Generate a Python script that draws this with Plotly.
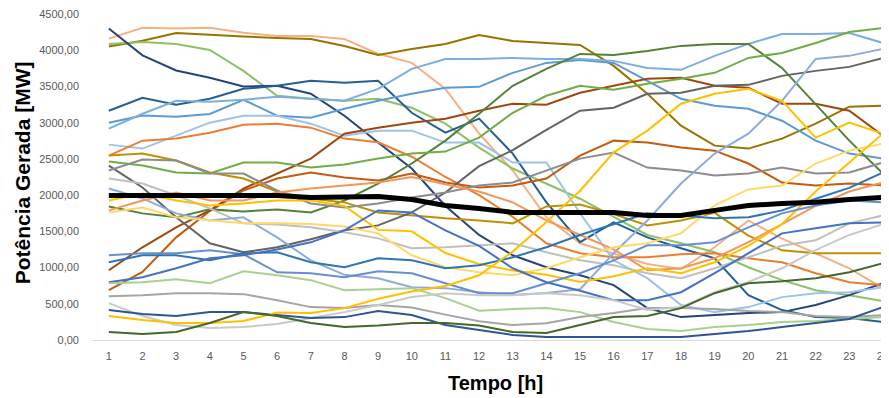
import plotly.graph_objects as go

hours = list(range(1, 25))

# ---- series values (MW) ----
s_salmon_light = [4160, 4310, 4300, 4310, 4240, 4195, 4195, 4155, 3950, 3825, 3467, 2850, 2340, 1693, 1335, 1197, 1050, 980, 1280, 1651, 1400, 1197, 990, 716]
s_olive = [4050, 4130, 4238, 4210, 4190, 4170, 4155, 4058, 3935, 4018, 4087, 4210, 4128, 4100, 4073, 3784, 3399, 2959, 2683, 2642, 2780, 2986, 3220, 3234]
s_green_light = [4087, 4114, 4087, 4004, 3715, 3371, 3330, 3302, 3330, 3206, 2986, 2656, 2367, 2160, 1950, 1700, 1450, 1335, 1211, 1004, 826, 688, 619, 537]
s_navy = [4300, 3930, 3720, 3620, 3500, 3510, 3400, 3096, 2725, 2367, 1850, 1450, 1170, 1004, 894, 757, 440, 316, 344, 372, 385, 482, 619, 784]
s_darkblue = [3165, 3344, 3247, 3330, 3467, 3509, 3578, 3550, 3578, 3137, 2862, 3055, 2573, 1900, 1350, 1624, 1417, 1266, 1128, 619, 413, 316, 303, 248]
s_blue = [3000, 3100, 3080, 3120, 3316, 3096, 3068, 3192, 3302, 3399, 3481, 3495, 3688, 3825, 3866, 3825, 3578, 3330, 3234, 3192, 3027, 2752, 2573, 2504]
s_skyblue = [2917, 3123, 3302, 3289, 3316, 3357, 3330, 3302, 3467, 3743, 3880, 3880, 3894, 3880, 3880, 3853, 3756, 3729, 3922, 4087, 4224, 4224, 4238, 4100]
s_paleblue = [2697, 2642, 2821, 3000, 3096, 3096, 2986, 2821, 2890, 2890, 2725, 2725, 2450, 2450, 1750, 1100, 853, 482, 385, 454, 592, 646, 660, 729]
s_orange = [2546, 2752, 2780, 2862, 2972, 2986, 2931, 2780, 2730, 2530, 2250, 2000, 1700, 1335, 1197, 1142, 1142, 1183, 1197, 1128, 1073, 922, 798, 757]
s_darkorange = [688, 940, 1417, 1780, 2064, 2229, 2312, 2243, 2202, 2298, 2174, 2105, 2133, 2229, 2546, 2752, 2725, 2656, 2614, 2436, 2174, 2133, 2160, 2133]
s_brown = [963, 1280, 1555, 1789, 2091, 2298, 2504, 2848, 2931, 3000, 3055, 3165, 3261, 3247, 3412, 3509, 3605, 3619, 3509, 3481, 3261, 3261, 3165, 2821]
s_darkgreen = [1844, 1748, 1693, 1803, 1775, 1803, 1761, 1926, 2160, 2436, 2752, 3123, 3509, 3743, 3949, 3935, 3990, 4060, 4087, 4087, 3756, 3261, 2752, 2298]
s_green = [2463, 2408, 2312, 2298, 2450, 2450, 2380, 2422, 2504, 2573, 2601, 2793, 3137, 3371, 3509, 3454, 3536, 3605, 3688, 3894, 3963, 4100, 4252, 4307]
s_darkgold = [2546, 2573, 2477, 2312, 2229, 2050, 1950, 1900, 1761, 1720, 1679, 1651, 1610, 1844, 1871, 1740, 1580, 1650, 1755, 1440, 1238, 1197, 1197, 1197]
s_darkgray = [2408, 2105, 1693, 1335, 1211, 1280, 1390, 1514, 1582, 1761, 2036, 2400, 2620, 2900, 3165, 3206, 3399, 3412, 3509, 3522, 3646, 3715, 3770, 3894]
s_gray = [2339, 2491, 2477, 2298, 2298, 2064, 1885, 1830, 1885, 1968, 2036, 2133, 2174, 2339, 2504, 2587, 2380, 2339, 2270, 2298, 2380, 2298, 2312, 2450]
s_lightgray = [2229, 2160, 1995, 1816, 1610, 1596, 1555, 1486, 1403, 1266, 1280, 1307, 1335, 1211, 1100, 1032, 922, 853, 990, 1142, 1300, 1376, 1610, 1720]
s_lavender = [2091, 1954, 1748, 1651, 1693, 1417, 1100, 900, 853, 729, 716, 660, 620, 650, 700, 1197, 1650, 2160, 2573, 2848, 3302, 3880, 3922, 4018]
s_salmon = [1789, 1926, 2036, 1926, 1926, 2036, 2091, 2133, 2174, 2250, 2150, 2050, 1900, 1650, 1450, 1250, 963, 990, 1128, 1350, 1600, 1850, 2050, 2174]
s_lightgold = [1761, 1830, 1693, 1651, 1610, 1610, 1600, 1568, 1472, 1170, 1004, 936, 894, 990, 1142, 1280, 1335, 1472, 1857, 2078, 2133, 2436, 2614, 2710]
s_yellow = [1926, 2022, 1926, 1857, 1885, 1926, 1926, 1850, 1520, 1500, 1200, 1050, 960, 900, 800, 880, 990, 922, 1073, 1300, 1600, 2050, 2450, 2850]
s_blue_a = [1170, 1197, 1197, 1238, 1183, 935, 922, 867, 949, 922, 784, 646, 646, 784, 922, 1100, 1307, 1307, 1348, 1555, 1748, 1857, 1926, 1900]
s_blue_b = [1073, 1170, 1170, 1100, 1197, 1211, 1073, 1004, 1128, 1100, 990, 1032, 1142, 1280, 1450, 1600, 1748, 1720, 1679, 1693, 1789, 1950, 2100, 2312]
s_blue_c = [798, 867, 990, 1128, 1170, 1250, 1348, 1514, 1789, 1761, 1514, 1300, 990, 798, 680, 550, 550, 660, 922, 1197, 1472, 1541, 1610, 1624]
s_pale_green = [784, 798, 839, 784, 949, 894, 826, 688, 702, 716, 578, 405, 427, 440, 385, 248, 151, 124, 179, 206, 248, 261, 289, 316]
s_gray_low = [605, 619, 646, 646, 633, 550, 454, 440, 482, 450, 350, 260, 206, 230, 316, 372, 440, 440, 427, 399, 385, 330, 316, 344]
s_silver_low = [509, 330, 206, 165, 179, 220, 303, 385, 482, 592, 646, 619, 619, 646, 619, 550, 413, 454, 660, 800, 990, 1240, 1450, 1600]
s_blue_low = [413, 358, 330, 385, 385, 344, 303, 316, 399, 344, 206, 138, 69, 41, 41, 41, 41, 41, 83, 124, 179, 234, 289, 454]
s_yellow_low = [330, 275, 234, 234, 261, 380, 372, 440, 570, 670, 745, 894, 1220, 1630, 2060, 2590, 2890, 3261, 3399, 3467, 3302, 2793, 3000, 2848]
s_darkgreen_low = [110, 83, 110, 234, 385, 330, 234, 179, 200, 234, 234, 200, 110, 96, 206, 316, 330, 440, 646, 784, 812, 853, 936, 1060]

media = [1995, 1995, 1995, 1995, 2010, 1995, 1968, 1968, 1981, 1940, 1857, 1816, 1761, 1761, 1761, 1761, 1720, 1720, 1789, 1857, 1885, 1900, 1940, 1968]

y_tick_vals = [0, 500, 1000, 1500, 2000, 2500, 3000, 3500, 4000, 4500]
y_tick_text = ["0,00", "500,00", "1000,00", "1500,00", "2000,00", "2500,00", "3000,00", "3500,00", "4000,00", "4500,00"]
x_tick_text = [str(h) for h in hours]

series = [
    (s_salmon_light, "#F4B183"), (s_olive, "#997300"), (s_green_light, "#8CC168"),
    (s_navy, "#264478"), (s_darkblue, "#255E91"), (s_blue, "#5B9BD5"),
    (s_skyblue, "#7CAFDD"), (s_paleblue, "#9DC3E6"), (s_orange, "#ED7D31"),
    (s_darkorange, "#C55A11"), (s_brown, "#9E480E"), (s_darkgreen, "#548235"),
    (s_green, "#70AD47"), (s_darkgold, "#BF9000"), (s_darkgray, "#636363"),
    (s_gray, "#8C8C8C"), (s_lightgray, "#BFBFBF"), (s_lavender, "#8FAADC"),
    (s_salmon, "#F1975A"), (s_lightgold, "#FFD966"), (s_yellow, "#FFC000"),
    (s_blue_a, "#698ED0"), (s_blue_b, "#2E75B6"), (s_blue_c, "#4472C4"),
    (s_pale_green, "#A9D18E"), (s_gray_low, "#A5A5A5"), (s_silver_low, "#C9C9C9"),
    (s_blue_low, "#2F5597"), (s_yellow_low, "#FFC000"), (s_darkgreen_low, "#43682B"),
]

fig = go.Figure()
for vals, col in series:
    fig.add_trace(go.Scatter(x=hours, y=vals, mode="lines",
                             line=dict(color=col, width=2), showlegend=False,
                             hoverinfo="skip"))
fig.add_trace(go.Scatter(x=hours, y=media, mode="lines",
                         line=dict(color="#000000", width=5), showlegend=False))

# page body adds an 8px offset, so the figure is sized/margined to compensate
fig.update_layout(
    width=881, height=390,
    margin=dict(l=84, r=0, t=5, b=58),
    paper_bgcolor="white", plot_bgcolor="white",
    font=dict(family="Liberation Sans, Arial, sans-serif", color="#595959", size=11),
    xaxis=dict(range=[0.5, 24.09], tickvals=hours, ticktext=x_tick_text,
               showgrid=False, zeroline=False, showline=True, linecolor="#D9D9D9",
               linewidth=1, ticks="", ticklabelstandoff=6, ticklabeloverflow="allow",
               tickfont=dict(size=11, color="#595959")),
    yaxis=dict(range=[0, 4500], tickvals=y_tick_vals, ticktext=y_tick_text,
               showgrid=False, zeroline=False, showline=False, ticks="",
               ticklabelstandoff=12, ticklabeloverflow="allow",
               tickfont=dict(size=11, color="#595959")),
    annotations=[
        dict(text="<b>Tempo [h]</b>", xref="paper", yref="paper",
             x=0.508, y=-0.1315, showarrow=False, xanchor="center", yanchor="middle",
             font=dict(size=20, color="#000000")),
        dict(text="<b>Potência Gerada [MW]</b>", xref="paper", yref="paper",
             x=-0.087, y=0.514, showarrow=False, xanchor="center", yanchor="middle",
             textangle=-90, font=dict(size=21, color="#000000")),
    ],
)

fig.write_html("out.html")
